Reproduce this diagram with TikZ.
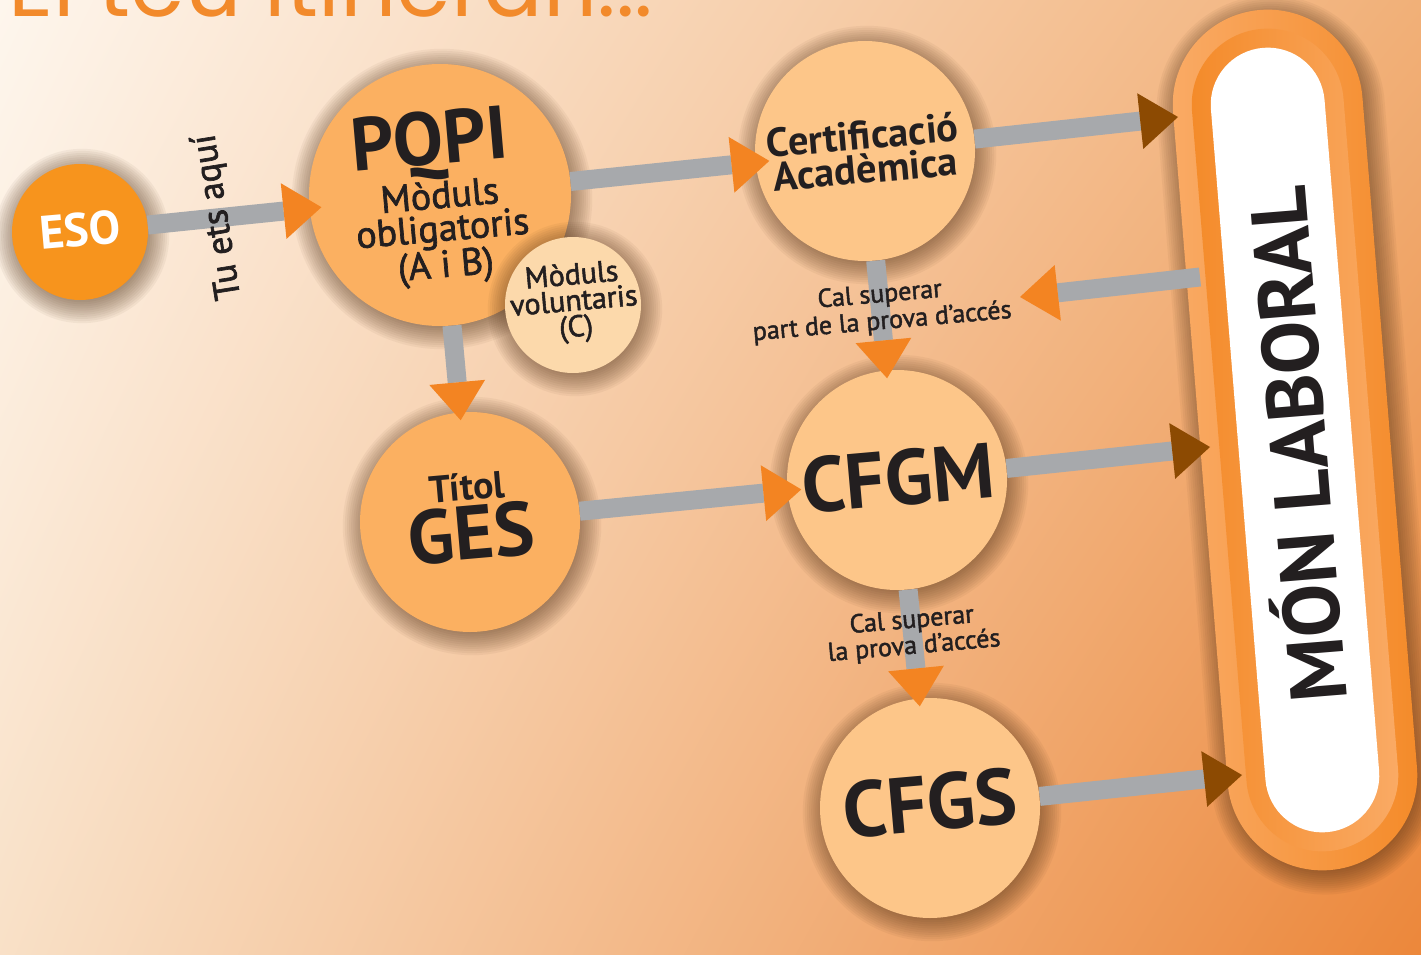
\documentclass[tikz,border=0pt]{standalone}
\usepackage{fontspec}
\setmainfont{PT Sans}
\newfontfamily\titlefont{Poppins}
\newfontfamily\semib[FakeBold=1.8]{PT Sans}
\usetikzlibrary{arrows.meta,calc}
\definecolor{esoor}{HTML}{F7941D}
\definecolor{midor}{HTML}{FBB061}
\definecolor{palor}{HTML}{FDC689}
\definecolor{volor}{HTML}{FCD9AB}
\definecolor{bar}{HTML}{A7A9AC}
\definecolor{tipor}{HTML}{F38422}
\definecolor{tipbr}{HTML}{8C4A02}
\definecolor{txt}{HTML}{231F20}
\definecolor{titleor}{HTML}{F28A2B}
\definecolor{pilllight}{HTML}{FAAB66}
\definecolor{pilldark}{HTML}{F48A28}
\definecolor{shadowc}{HTML}{4A2A10}
\pgfdeclarefunctionalshading{bgshade}{\pgfpoint{0bp}{0bp}}{\pgfpoint{100bp}{100bp}}{}{
25 sub 50 div exch 25 sub 50 div exch
1 index 1 index mul 0.0 mul 2 index -0.05 mul add 1 index 0.02 mul add 0.975 add 3 1 roll
1 index 1 index mul 0.075 mul 2 index -0.35 mul add 1 index 0.085 mul add 0.88 add 3 1 roll
1 index 1 index mul 0.09 mul 2 index -0.55 mul add 1 index 0.15 mul add 0.78 add 3 1 roll
pop pop}
\newcommand\circshadow[2]{%
  \foreach \k in {1,...,12}{\fill[shadowc, opacity=0.05] ($(#1)+(2,4)$) circle ({#2-6+\k*2.1});}}
\tikzset{
  bub/.style={circle, inner sep=0pt},
  lbl/.style={text=txt, inner sep=0pt, align=center, rotate=5},
  conn/.style={draw=bar, line width=19pt},
  ortip/.style={-{Triangle[length=38pt,width=56pt,line width=0pt,color=tipor]}},
  brtip/.style={-{Triangle[length=38pt,width=56pt,line width=0pt,color=tipbr]}},
  pillpart/.style={rectangle, inner sep=0pt, rotate=4.65},
}
\begin{document}
\begin{tikzpicture}[x=1pt,y=-1pt]
\useasboundingbox (0,0) rectangle (1421,955);
\clip (0,0) rectangle (1421,955);
\fill[shading=bgshade] (0,0) rectangle (1421,955);
% title
\node[anchor=base west, text=titleor, inner sep=0pt, font=\titlefont\fontsize{88}{88}\selectfont] (title) at (8,17) {El teu itinerari...};
% Mon laboral pill
\coordinate (c-pill) at (1295,440);
\foreach \k in {1,...,12}{\node[pillpart, fill=shadowc, opacity=0.05, rounded corners={95pt-6pt+\k*2.1pt}, minimum width={190pt-12pt+\k*4.2pt}, minimum height={863pt-12pt+\k*4.2pt}] at ($(c-pill)+(3,5)$) {};}
\node[pillpart, rounded corners=95pt, minimum width=190pt, minimum height=863pt, left color=pilllight, right color=pilldark] (pill) at (c-pill) {};
\node[pillpart, rounded corners=76pt, minimum width=152pt, minimum height=825pt, left color=pilldark, right color=pilllight] (pillmid) at (c-pill) {};
\node[pillpart, rounded corners=57pt, minimum width=114pt, minimum height=787pt, fill=white] (pillin) at (c-pill) {};
\node[text=txt, inner sep=0pt, rotate=94.65, font=\bfseries\fontsize{80}{80}\selectfont] (mlT) at (1292,445) {MÓN LABORAL};
\coordinate (ml0) at (1200,277);
\coordinate (ml1) at (1178,117);
\coordinate (ml2) at (1210,447);
\coordinate (ml3) at (1242,775);
\coordinate (lt1) at (1020,297);
% circles
\coordinate (c-eso) at (80,232);
\coordinate (c-pqpi) at (440,195);
\coordinate (c-vol) at (573,305);
\coordinate (c-cert) at (865,151);
\coordinate (c-ges) at (470,522);
\coordinate (c-cfgm) at (897,480);
\coordinate (c-cfgs) at (930,808);
\circshadow{c-eso}{68}
\node[bub, fill=esoor, minimum size=136pt] (eso) at (c-eso) {};
\circshadow{c-pqpi}{131}
\node[bub, fill=midor, minimum size=262pt] (pqpi) at (c-pqpi) {};
\circshadow{c-vol}{68}
\node[bub, fill=volor, minimum size=136pt] (vol) at (c-vol) {};
\circshadow{c-cert}{110}
\node[bub, fill=palor, minimum size=220pt] (cert) at (c-cert) {};
\circshadow{c-ges}{110}
\node[bub, fill=midor, minimum size=220pt] (ges) at (c-ges) {};
\circshadow{c-cfgm}{110}
\node[bub, fill=palor, minimum size=220pt] (cfgm) at (c-cfgm) {};
\circshadow{c-cfgs}{110}
\node[bub, fill=palor, minimum size=220pt] (cfgs) at (c-cfgs) {};
% connectors
\draw[conn, ortip, shorten >=-12pt] (eso) -- (pqpi);
\draw[conn, ortip, shorten >=-14pt] (pqpi) -- (cert);
\draw[conn, brtip] (cert) -- (ml1);
\draw[conn, ortip, shorten >=-8pt] (cert) -- (cfgm);
\draw[conn, ortip, shorten >=-8pt] (pqpi) -- (ges);
\draw[conn, ortip, shorten >=-14pt] (ges) -- (cfgm);
\draw[conn, brtip] (cfgm) -- (ml2);
\draw[conn, ortip, shorten >=-8pt] (cfgm) -- (cfgs);
\draw[conn, brtip] (cfgs) -- (ml3);
\draw[conn, ortip] (ml0) -- (lt1);
% texts
\node[lbl, text=white, font=\bfseries\fontsize{47}{47}\selectfont] (esoT) at (80,230) {ESO};
\node[lbl, rotate=94, font=\semib\fontsize{36}{36}\selectfont] (tuT) at (218,217) {Tu ets aquí};
\node[lbl, font=\bfseries\fontsize{75}{75}\selectfont] (pqpiT) at (430,146) {PQPI};
\node[lbl, font=\semib\fontsize{38}{33}\selectfont] (pqpiS) at (443,233) {Mòduls\\obligatoris\\(A i B)};
\node[lbl, font=\semib\fontsize{30}{26}\selectfont] (volT) at (574,303) {Mòduls\\voluntaris\\(C)};
\node[lbl, font=\bfseries\fontsize{40.5}{34}\selectfont] (certT) at (864,152) {Certificació\\Acadèmica};
\node[lbl, font=\bfseries\fontsize{38}{38}\selectfont] (titolT) at (467,487) {Títol};
\node[lbl, font=\bfseries\fontsize{76}{76}\selectfont] (gesT) at (471,533) {GES};
\node[lbl, font=\bfseries\fontsize{78}{78}\selectfont] (cfgmT) at (898,478) {CFGM};
\node[lbl, font=\bfseries\fontsize{79}{79}\selectfont] (cfgsT) at (930,803) {CFGS};
\node[lbl, font=\semib\fontsize{26}{27}\selectfont] (prova1) at (881,309) {Cal superar\\part de la prova d’accés};
\node[lbl, font=\semib\fontsize{26}{26}\selectfont] (prova2) at (913,634) {Cal superar\\la prova d’accés};
\end{tikzpicture}
\end{document}
